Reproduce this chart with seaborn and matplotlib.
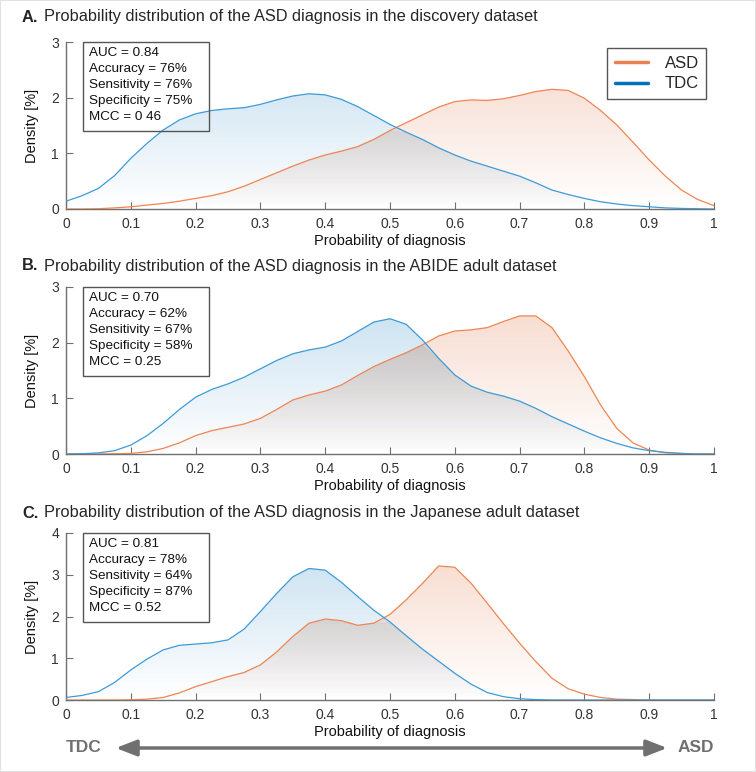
import matplotlib.pyplot as plt
import numpy as np
import pandas as pd
import seaborn as sns
from matplotlib.lines import Line2D
from matplotlib.patches import Rectangle, FancyArrowPatch

sns.set_theme(style="white")
plt.rcParams["font.family"] = ["Liberation Sans", "DejaVu Sans"]

# probability grid (x positions of the density readings)
prob = np.linspace(0, 1, 41)

# A. discovery dataset
a_tdc = [0.14, 0.24, 0.37, 0.60, 0.91, 1.18, 1.42, 1.60, 1.71, 1.77, 1.80,
         1.82, 1.88, 1.96, 2.03, 2.07, 2.05, 1.97, 1.84, 1.68, 1.52, 1.38,
         1.25, 1.10, 0.97, 0.86, 0.77, 0.68, 0.59, 0.47, 0.34, 0.26, 0.19,
         0.13, 0.09, 0.06, 0.04, 0.02, 0.01, 0.005, 0.0]
a_asd = [0.0, 0.0, 0.005, 0.02, 0.04, 0.07, 0.10, 0.14, 0.19, 0.24, 0.31,
         0.41, 0.53, 0.65, 0.77, 0.88, 0.97, 1.04, 1.12, 1.25, 1.41, 1.55,
         1.69, 1.83, 1.93, 1.96, 1.95, 1.98, 2.04, 2.11, 2.15, 2.13, 1.99,
         1.77, 1.51, 1.20, 0.88, 0.59, 0.34, 0.17, 0.06]

# B. ABIDE adult dataset
b_tdc = [0.0, 0.005, 0.02, 0.06, 0.16, 0.33, 0.55, 0.80, 1.02, 1.16, 1.26,
         1.38, 1.53, 1.68, 1.80, 1.87, 1.92, 2.03, 2.20, 2.37, 2.43, 2.33,
         2.05, 1.72, 1.42, 1.22, 1.11, 1.04, 0.95, 0.82, 0.67, 0.54, 0.41,
         0.29, 0.19, 0.11, 0.06, 0.03, 0.01, 0.0, 0.0]
b_asd = [0.0, 0.0, 0.0, 0.005, 0.01, 0.04, 0.10, 0.20, 0.33, 0.42, 0.48,
         0.54, 0.64, 0.80, 0.97, 1.06, 1.13, 1.24, 1.41, 1.57, 1.70, 1.82,
         1.96, 2.12, 2.21, 2.23, 2.27, 2.38, 2.48, 2.48, 2.27, 1.85, 1.39,
         0.88, 0.46, 0.20, 0.07, 0.02, 0.01, 0.0, 0.0]

# C. Japanese adult dataset
c_tdc = [0.06, 0.11, 0.20, 0.42, 0.72, 0.98, 1.20, 1.31, 1.34, 1.37, 1.44,
         1.70, 2.12, 2.55, 2.95, 3.15, 3.11, 2.82, 2.48, 2.15, 1.87, 1.54,
         1.22, 0.93, 0.64, 0.38, 0.18, 0.08, 0.03, 0.01, 0.0, 0.0, 0.0,
         0.0, 0.0, 0.0, 0.0, 0.0, 0.0, 0.0, 0.0]
c_asd = [0.0, 0.0, 0.0, 0.0, 0.005, 0.02, 0.06, 0.17, 0.32, 0.44, 0.56,
         0.66, 0.84, 1.15, 1.52, 1.84, 1.94, 1.90, 1.79, 1.84, 2.05, 2.40,
         2.79, 3.21, 3.18, 2.80, 2.32, 1.83, 1.36, 0.92, 0.52, 0.27, 0.14,
         0.06, 0.02, 0.01, 0.0, 0.0, 0.0, 0.0, 0.0]

letters = ["A.", "B.", "C."]
titles = [
    "Probability distribution of the ASD diagnosis in the discovery dataset",
    "Probability distribution of the ASD diagnosis in the ABIDE adult dataset",
    "Probability distribution of the ASD diagnosis in the Japanese adult dataset",
]
stats = [
    "AUC = 0.84\nAccuracy = 76%\nSensitivity = 76%\nSpecificity = 75%\nMCC = 0 46",
    "AUC = 0.70\nAccuracy = 62%\nSensitivity = 67%\nSpecificity = 58%\nMCC = 0.25",
    "AUC = 0.81\nAccuracy = 78%\nSensitivity = 64%\nSpecificity = 87%\nMCC = 0.52",
]
y_max = [3, 3, 4]
tdc_series = [a_tdc, b_tdc, c_tdc]
asd_series = [a_asd, b_asd, c_asd]

line_colors = {"ASD": "#EE8652", "TDC": "#3D9BD8"}
fill_colors = {"ASD": (0.85, 0.33, 0.10), "TDC": (0.0, 0.45, 0.74)}

W, H = 756, 772


def gradient_fill(ax, x, y, rgb, top_alpha, ymax, z):
    # light colour at the top fading to white at the baseline
    poly = ax.fill_between(x, 0, y, facecolor="none", edgecolor="none")
    grad = np.zeros((256, 2, 4))
    grad[..., :3] = rgb
    grad[..., 3] = np.linspace(0, top_alpha, 256)[:, None]
    im = ax.imshow(grad, extent=[0, 1, 0, ymax], origin="lower",
                   aspect="auto", zorder=z, interpolation="bilinear")
    im.set_clip_path(poly.get_paths()[0], transform=ax.transData)


fig = plt.figure(figsize=(W / 100, H / 100), dpi=100)

ax_top_px = [42, 287, 533]
ax_bot_px = [209, 454, 700]
title_px = [17, 266, 513]

for i in range(3):
    bottom = 1 - ax_bot_px[i] / H
    ax_h_px = ax_bot_px[i] - ax_top_px[i]
    ax = fig.add_axes([66 / W, bottom, 648 / W, ax_h_px / H])

    df = pd.concat([
        pd.DataFrame({"p": prob, "density": asd_series[i], "group": "ASD"}),
        pd.DataFrame({"p": prob, "density": tdc_series[i], "group": "TDC"}),
    ])

    gradient_fill(ax, prob, tdc_series[i], fill_colors["TDC"], 0.24, y_max[i], 1)
    gradient_fill(ax, prob, asd_series[i], fill_colors["ASD"], 0.24, y_max[i], 1.1)
    overlap = np.minimum(tdc_series[i], asd_series[i])
    gradient_fill(ax, prob, overlap, (0.45, 0.45, 0.47), 0.2, y_max[i], 1.2)

    sns.lineplot(data=df, x="p", y="density", hue="group",
                 palette=line_colors, linewidth=0.9, legend=False, ax=ax,
                 zorder=3)

    ax.set_xlim(0, 1)
    ax.set_ylim(0, y_max[i])
    ax.set_xticks(np.arange(0, 1.01, 0.1))
    ax.set_xticklabels(["0", "0.1", "0.2", "0.3", "0.4", "0.5", "0.6",
                        "0.7", "0.8", "0.9", "1"])
    ax.set_yticks(range(0, y_max[i] + 1))
    ax.tick_params(bottom=True, left=True, direction="in", length=5,
                   width=0.8, color="#707070", labelsize=10,
                   labelcolor="#333333")
    ax.tick_params(axis="x", pad=6)
    ax.tick_params(axis="y", pad=5)
    for side in ["top", "right"]:
        ax.spines[side].set_visible(False)
    for side in ["left", "bottom"]:
        ax.spines[side].set_color("#707070")
        ax.spines[side].set_linewidth(1)
    ax.set_xlabel("Probability of diagnosis", fontsize=10.5, color="#111111",
                  labelpad=2)
    ax.set_ylabel("Density [%]", fontsize=10.5, color="#111111", labelpad=9)

    # stats box
    box_h = 89 / ax_h_px
    ax.add_patch(Rectangle((17 / 648, 1 - box_h), 126 / 648, box_h,
                           transform=ax.transAxes, facecolor="none",
                           edgecolor="#555555", lw=1, zorder=5,
                           clip_on=False))
    ax.text(23 / 648, 1 - 5 / ax_h_px, stats[i],
            transform=ax.transAxes, va="top", ha="left", fontsize=9.7,
            linespacing=1.45, color="#111111", zorder=6)

    fig.text(22 / W, 1 - title_px[i] / H, letters[i], fontsize=11.8,
             fontweight="bold", va="center", ha="left")
    fig.text(44 / W, 1 - title_px[i] / H, titles[i], fontsize=11.8,
             va="center", ha="left")

    if i == 0:
        handles = [Line2D([0], [0], color="#E8804F", lw=2.5),
                   Line2D([0], [0], color="#0072BD", lw=2.5)]
        leg = ax.legend(handles, ["ASD", "TDC"], loc="upper right",
                        bbox_to_anchor=(0.988, 0.964), frameon=True,
                        fancybox=False, edgecolor="#555555", fontsize=12,
                        handlelength=2.0, handletextpad=1.0, borderpad=0.45,
                        labelspacing=0.35, borderaxespad=0, framealpha=1)
        leg.get_frame().set_linewidth(1)

# TDC <-> ASD arrow along the bottom
arrow_y = 1 - 748 / H
fig.add_artist(FancyArrowPatch((113 / W, arrow_y), (670 / W, arrow_y),
                               transform=fig.transFigure,
                               arrowstyle="<|-|>,head_length=0.9,head_width=0.35",
                               mutation_scale=14, lw=2.5, color="#707070"))
fig.text(84 / W, arrow_y, "TDC", fontsize=12.5, fontweight="bold",
         color="#707070", ha="center", va="center")
fig.text(696 / W, arrow_y, "ASD", fontsize=12.5, fontweight="bold",
         color="#707070", ha="center", va="center")

fig.add_artist(Rectangle((0, 0), 1, 1, transform=fig.transFigure,
                         fill=False, edgecolor="#e2e2e2", lw=1.5))

plt.savefig("out.png", dpi=100)
